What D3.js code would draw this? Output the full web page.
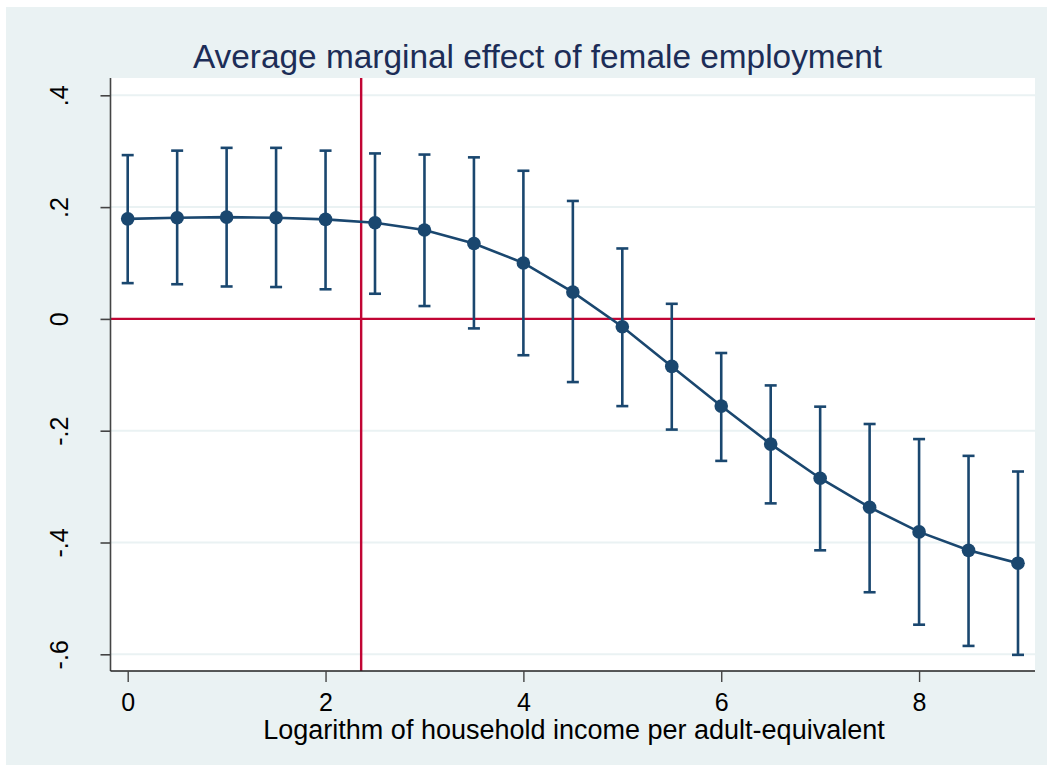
<!DOCTYPE html>
<html>
<head>
<meta charset="utf-8">
<script src="https://cdn.jsdelivr.net/npm/d3@7"></script>
<style>
  html, body { margin: 0; padding: 0; background: #ffffff; }
  svg { display: block; font-family: "Liberation Sans", Arial, sans-serif; }
</style>
</head>
<body>
<svg id="chart" width="1053" height="771"></svg>
<script>
// Log household income per adult-equivalent (evaluation points)
const income = [0, 0.5, 1, 1.5, 2, 2.5, 3, 3.5, 4, 4.5, 5, 5.5, 6, 6.5, 7, 7.5, 8, 8.5, 9];
// Average marginal effect of female employment
const effect = [0.179, 0.181, 0.182, 0.181, 0.178, 0.172, 0.159, 0.135, 0.100, 0.048, -0.014, -0.085, -0.156, -0.224, -0.285, -0.337, -0.381, -0.414, -0.437];
// 95% confidence interval bounds
const ciUpper = [0.293, 0.301, 0.306, 0.306, 0.301, 0.296, 0.294, 0.289, 0.265, 0.211, 0.126, 0.027, -0.061, -0.119, -0.157, -0.188, -0.215, -0.245, -0.273];
const ciLower = [0.064, 0.062, 0.058, 0.057, 0.053, 0.045, 0.023, -0.017, -0.065, -0.113, -0.156, -0.198, -0.254, -0.330, -0.414, -0.489, -0.547, -0.585, -0.601];
// Axis ticks and labels
const xTicks = [0, 2, 4, 6, 8];
const yTicks = [-0.6, -0.4, -0.2, 0, 0.2, 0.4];
const yTickLabels = ["-.6", "-.4", "-.2", "0", ".2", ".4"];
// Reference lines
const refX = 2.36;
const refY = 0;

const titleText = "Average marginal effect of female employment";
const xTitleText = "Logarithm of household income per adult-equivalent";

const svg = d3.select("#chart");

const navy = "#1a476f";
const red = "#c10534";
const bgColor = "#eaf2f3";

// Outer graph region
svg.append("rect")
  .attr("x", 6).attr("y", 7)
  .attr("width", 1041).attr("height", 758)
  .attr("fill", bgColor);

// Plot region
const plot = { left: 110.5, right: 1035, top: 78, bottom: 671 };
svg.append("rect")
  .attr("x", plot.left).attr("y", plot.top)
  .attr("width", plot.right - plot.left).attr("height", plot.bottom - plot.top)
  .attr("fill", "#ffffff");

const x = d3.scaleLinear().domain([0, 9]).range([127.7, 1018]);
const y = d3.scaleLinear().domain([-0.6, 0.4]).range([654.3, 95.3]);

// Horizontal grid lines
svg.append("g")
  .selectAll("line")
  .data(yTicks)
  .join("line")
  .attr("x1", plot.left).attr("x2", plot.right)
  .attr("y1", d => y(d)).attr("y2", d => y(d))
  .attr("stroke", bgColor)
  .attr("stroke-width", 2);

// Reference lines
svg.append("line")
  .attr("x1", plot.left).attr("x2", plot.right)
  .attr("y1", y(refY)).attr("y2", y(refY))
  .attr("stroke", red).attr("stroke-width", 2.4);
svg.append("line")
  .attr("x1", x(refX)).attr("x2", x(refX))
  .attr("y1", plot.top).attr("y2", plot.bottom)
  .attr("stroke", red).attr("stroke-width", 2.4);

// Confidence interval bars
const data = income.map((v, i) => ({ x: v, m: effect[i], lo: ciLower[i], hi: ciUpper[i] }));
const capHalf = 6;
const ci = svg.append("g").attr("stroke", navy).attr("stroke-width", 2.6).attr("fill", "none");
ci.selectAll("line.bar")
  .data(data).join("line").attr("class", "bar")
  .attr("x1", d => x(d.x)).attr("x2", d => x(d.x))
  .attr("y1", d => y(d.hi)).attr("y2", d => y(d.lo));
ci.selectAll("line.capHi")
  .data(data).join("line").attr("class", "capHi")
  .attr("x1", d => x(d.x) - capHalf).attr("x2", d => x(d.x) + capHalf)
  .attr("y1", d => y(d.hi)).attr("y2", d => y(d.hi));
ci.selectAll("line.capLo")
  .data(data).join("line").attr("class", "capLo")
  .attr("x1", d => x(d.x) - capHalf).attr("x2", d => x(d.x) + capHalf)
  .attr("y1", d => y(d.lo)).attr("y2", d => y(d.lo));

// Connected line with markers
const line = d3.line().x(d => x(d.x)).y(d => y(d.m));
svg.append("path")
  .datum(data)
  .attr("d", line)
  .attr("fill", "none")
  .attr("stroke", navy)
  .attr("stroke-width", 2.6);
svg.append("g")
  .selectAll("circle")
  .data(data)
  .join("circle")
  .attr("cx", d => x(d.x)).attr("cy", d => y(d.m))
  .attr("r", 6.8)
  .attr("fill", navy);

// Y axis
const yAxis = d3.axisLeft(y)
  .tickValues(yTicks)
  .tickSize(10)
  .tickPadding(0)
  .tickFormat((d, i) => yTickLabels[i]);
const yg = svg.append("g")
  .attr("transform", `translate(${plot.left},0)`)
  .call(yAxis);
yg.select(".domain")
  .attr("d", `M0,${plot.top}V${plot.bottom}`)
  .attr("stroke", "#444").attr("stroke-width", 1.6);
yg.selectAll(".tick line").attr("stroke", "#444").attr("stroke-width", 1.6);
yg.selectAll(".tick text")
  .attr("x", 0).attr("dy", null)
  .attr("transform", "translate(-43,0) rotate(-90)")
  .attr("text-anchor", "middle")
  .attr("font-size", 25)
  .attr("fill", "#000");

// X axis
const xAxis = d3.axisBottom(x)
  .tickValues(xTicks)
  .tickSize(11)
  .tickPadding(6)
  .tickFormat(d3.format("d"));
const xg = svg.append("g")
  .attr("transform", `translate(0,${plot.bottom})`)
  .call(xAxis);
xg.select(".domain").attr("d", `M${plot.left},0H${plot.right}`).attr("stroke", "#222").attr("stroke-width", 1.6);
xg.selectAll(".tick line").attr("stroke", "#444").attr("stroke-width", 1.4);
xg.selectAll(".tick text")
  .attr("dy", null)
  .attr("y", 40)
  .attr("font-size", 25)
  .attr("fill", "#000");

// Titles
svg.append("text")
  .attr("x", 537.5).attr("y", 68)
  .attr("text-anchor", "middle")
  .attr("font-size", 33.4)
  .attr("fill", "#1c2d57")
  .text(titleText);
svg.append("text")
  .attr("x", 574).attr("y", 739)
  .attr("text-anchor", "middle")
  .attr("font-size", 27)
  .attr("fill", "#000")
  .text(xTitleText);
</script>
</body>
</html>
